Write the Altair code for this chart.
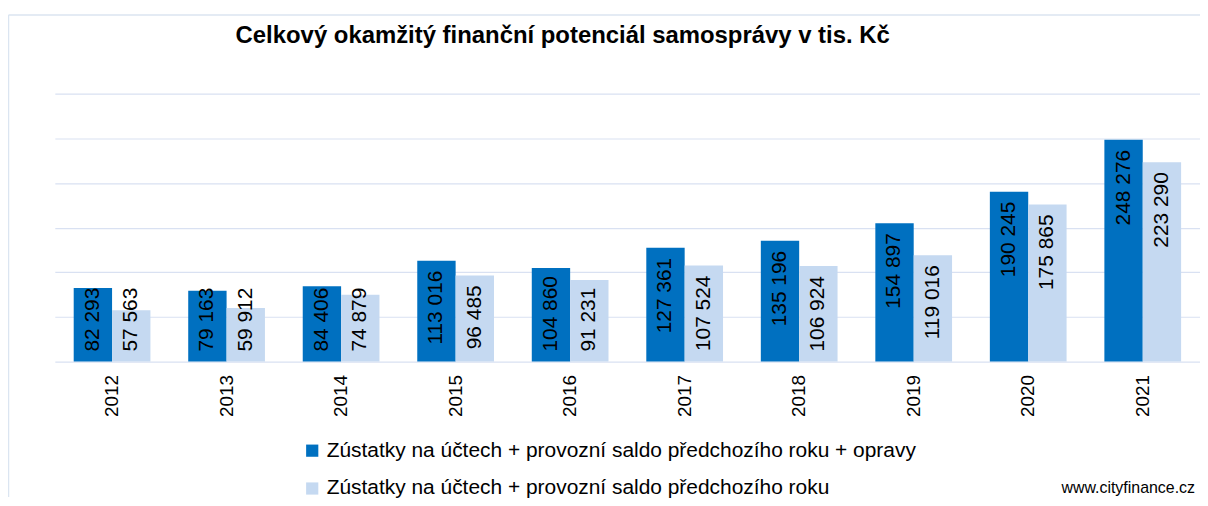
import altair as alt
import pandas as pd

years = ["2012", "2013", "2014", "2015", "2016", "2017", "2018", "2019", "2020", "2021"]
series_a = "Zústatky na účtech + provozní saldo předchozího roku + opravy"
series_b = "Zústatky na účtech + provozní saldo předchozího roku"
values_a = [82293, 79163, 84406, 113016, 104860, 127361, 135196, 154897, 190245, 248276]
values_b = [57563, 59912, 74879, 96485, 91231, 107524, 106924, 119016, 175865, 223290]
title_text = ["Celkový okamžitý finanční potenciál samosprávy v tis. Kč"]
source_text = ["www.cityfinance.cz"]

rows = []
for y, a, b in zip(years, values_a, values_b):
    rows.append({"year": y, "series": series_a, "value": a,
                 "label": f"{a:,}".replace(",", " ")})
    rows.append({"year": y, "series": series_b, "value": b,
                 "label": f"{b:,}".replace(",", " ")})
df = pd.DataFrame(rows)

FONT = "Liberation Sans, Arial, sans-serif"
W, H, YMAX = 1150, 269, 300000
BORDER = "#dbe5f1"
GRID = "#d9e1f2"

x_enc = alt.X("year:N", sort=years, title=None,
              scale=alt.Scale(paddingInner=0.33, paddingOuter=0.165),
              axis=alt.Axis(labelAngle=-90, labelFontSize=19, labelFont=FONT,
                            labelColor="#000000", labelPadding=13, ticks=False,
                            grid=False, domainColor=GRID, domainWidth=1.2))
xoff = alt.XOffset("series:N", sort=[series_a, series_b])
y_enc = alt.Y("value:Q", title=None,
              scale=alt.Scale(domain=[0, YMAX]),
              axis=alt.Axis(values=[50000, 100000, 150000, 200000, 250000, 300000],
                            labels=False, ticks=False, domain=False,
                            gridColor=GRID, gridWidth=1.2))

base = alt.Chart(df)

bars = base.mark_bar().encode(
    x=x_enc, xOffset=xoff, y=y_enc,
    color=alt.Color("series:N", sort=[series_a, series_b],
                    scale=alt.Scale(domain=[series_a, series_b],
                                    range=["#0070c0", "#c5d9f1"]),
                    legend=alt.Legend(title=None, orient="none", legendX=248, legendY=348,
                                      direction="vertical", symbolType="square",
                                      symbolSize=150, symbolStrokeWidth=0,
                                      labelFontSize=21, labelFont=FONT,
                                      labelColor="#000000", rowPadding=16,
                                      labelLimit=900, symbolOffset=0, labelOffset=4)),
)

# Excel-like label placement: inside end, unless too short -> anchored near base
lab = base.transform_calculate(
    fits=f"datum.value * {H} / {YMAX} >= length(datum.label) * 10.8 + 20",
    zero="0",
)
labels_top = lab.transform_filter("datum.fits").mark_text(
    angle=270, align="right", baseline="middle", dx=-10,
    fontSize=21, font=FONT, color="#000000").encode(
    x=alt.X("year:N", sort=years), xOffset=xoff, y="value:Q", text="label:N")
labels_base = lab.transform_filter("!datum.fits").mark_text(
    angle=270, align="left", baseline="middle", dx=10,
    fontSize=21, font=FONT, color="#000000").encode(
    x=alt.X("year:N", sort=years), xOffset=xoff, y="zero:Q", text="label:N")

src = alt.Chart(pd.DataFrame({"t": source_text})).mark_text(
    align="right", baseline="middle", fontSize=16, font=FONT, color="#000000"
).encode(x=alt.value(1145), y=alt.value(396), text="t:N")

ttl = alt.Chart(pd.DataFrame({"t": title_text})).mark_text(
    align="center", baseline="middle", fontSize=24, font=FONT, fontWeight="bold",
    color="#000000"
).encode(x=alt.value(510), y=alt.value(-58), text="t:N")

one = pd.DataFrame({"k": [0]})
border_top = alt.Chart(one).mark_rule(color=BORDER, strokeWidth=1.5).encode(
    x=alt.value(-46.5), x2=alt.value(1153), y=alt.value(-79))
border_left = alt.Chart(one).mark_rule(color=BORDER, strokeWidth=1.5).encode(
    x=alt.value(-46.5), y=alt.value(-79), y2=alt.value(405))

chart = alt.layer(border_top, border_left, bars, labels_top, labels_base, src, ttl).properties(
    width=W, height=H,
    background="#ffffff",
    padding={"left": 47, "top": 85, "right": 0, "bottom": 136},
    autosize=alt.AutoSizeParams(type="none"),
).configure_view(strokeWidth=0).configure_axisY(domain=False)

chart.save("out.html", embed_options={"renderer": "svg", "actions": False})
